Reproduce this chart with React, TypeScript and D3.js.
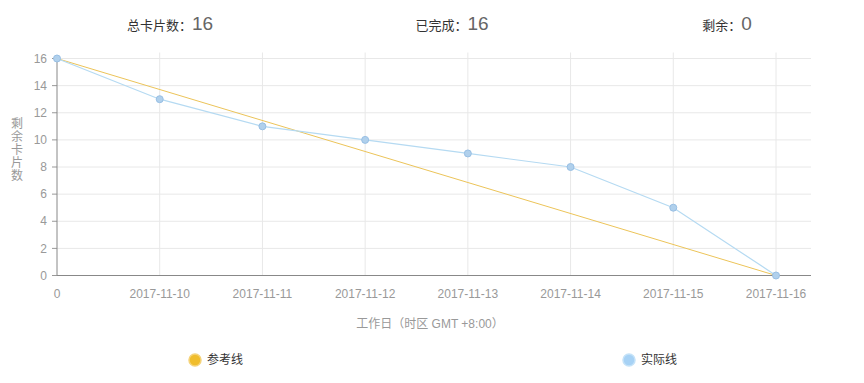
import React from "react";
import * as d3 from "d3";

const categories = ["0", "2017-11-10", "2017-11-11", "2017-11-12", "2017-11-13", "2017-11-14", "2017-11-15", "2017-11-16"];
const actualValues = [16, 13, 11, 10, 9, 8, 5, 0];
const referenceValues = [16, 0];
const referenceIndex = [0, 7];
const yTicks = [0, 2, 4, 6, 8, 10, 12, 14, 16];
const headerItems = [
  { label: "总卡片数：", value: "16", cx: 170 },
  { label: "已完成：", value: "16", cx: 452 },
  { label: "剩余：", value: "0", cx: 727 },
];
const yTitleChars = ["剩", "余", "卡", "片", "数"];

const W = 864;
const H = 383;
const left = 57;
const right = 811;
const lastX = 776;
const top = 58.5;
const bottom = 275.5;

export default function App() {
  const x = d3.scaleLinear().domain([0, categories.length - 1]).range([left, lastX]);
  const y = d3.scaleLinear().domain([0, 16]).range([bottom, top]);
  const line = d3.line<[number, number]>().x((d) => x(d[0])).y((d) => y(d[1]));
  const actualPts: [number, number][] = actualValues.map((v, i) => [i, v]);
  const refPts: [number, number][] = referenceValues.map((v, i) => [referenceIndex[i], v]);
  const font = "'Liberation Sans', Arial, 'Noto Sans CJK SC', sans-serif";

  return (
    <svg width={W} height={H} style={{ position: "absolute", left: 0, top: 0, fontFamily: font }}>
      <rect width={W} height={H} fill="#fff" />
      {headerItems.map((h, i) => (
        <text key={i} x={h.cx} y={30} textAnchor="middle">
          <tspan fontSize={13} fill="#333">{h.label}</tspan>
          <tspan fontSize={19} fill="#666">{h.value}</tspan>
        </text>
      ))}
      {yTicks.map((t) => (
        <g key={t}>
          {t !== 0 && <line x1={left} x2={right} y1={y(t)} y2={y(t)} stroke="#e8e8e8" strokeWidth={1} />}
          <line x1={left - 5} x2={left} y1={y(t)} y2={y(t)} stroke="#999" strokeWidth={1} />
          <text x={left - 10} y={y(t)} dy="0.35em" textAnchor="end" fontSize={12} fill="#999">{t}</text>
        </g>
      ))}
      {categories.map((c, i) => (
        <g key={c}>
          {i !== 0 && <line x1={x(i)} x2={x(i)} y1={top - 6} y2={bottom} stroke="#e8e8e8" strokeWidth={1} />}
          <text x={x(i)} y={bottom + 22} textAnchor="middle" fontSize={12} fill="#999">{c}</text>
        </g>
      ))}
      <line x1={left} x2={left} y1={top} y2={bottom} stroke="#888" strokeWidth={1} />
      <line x1={left} x2={right} y1={bottom} y2={bottom} stroke="#888" strokeWidth={1} />
      {yTitleChars.map((ch, i) => (
        <text key={i} x={17} y={124 + i * 13} dy="0.35em" textAnchor="middle" fontSize={12} fill="#999">{ch}</text>
      ))}
      <text x={430} y={328} textAnchor="middle" fontSize={12} fill="#999">工作日（时区 GMT +8:00）</text>
      <path d={line(refPts) || ""} fill="none" stroke="#ecc459" strokeWidth={1} />
      <path d={line(actualPts) || ""} fill="none" stroke="#b5daf2" strokeWidth={1.2} />
      {actualPts.map((p, i) => (
        <circle key={i} cx={x(p[0])} cy={y(p[1])} r={3.5} fill="#b0d0ec" stroke="#98bfe4" strokeWidth={1} />
      ))}
      <circle cx={195} cy={360} r={6} fill="#f0bd2c" stroke="#f5d37a" strokeWidth={1.5} />
      <text x={207} y={364} fontSize={12} fill="#333">参考线</text>
      <circle cx={629} cy={360} r={6} fill="#a7d2f5" stroke="#c4e2f8" strokeWidth={1.5} />
      <text x={641} y={364} fontSize={12} fill="#333">实际线</text>
    </svg>
  );
}
